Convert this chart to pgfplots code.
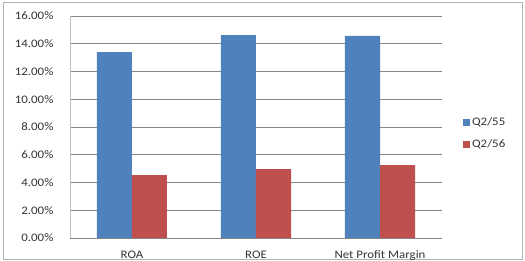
\documentclass[border=0pt]{standalone}
\usepackage{pgfplots}
\pgfplotsset{compat=1.18}
\usepackage{fontspec}
\setmainfont{Carlito}[FakeStretch=1.12]
\definecolor{xblue}{HTML}{4F81BD}
\definecolor{xred}{HTML}{C0504D}
\definecolor{gridc}{HTML}{868686}
\begin{document}
\begin{tikzpicture}[x=1pt,y=1pt]
\useasboundingbox (0,0) rectangle (525,261);
\draw[color=gray!60, line width=0.8pt] (3,2) rectangle (522,259);
\begin{axis}[
  at={(70pt,23pt)}, anchor=south west,
  scale only axis, width=372pt, height=222pt,
  ybar=0pt, bar width=35pt,
  xmin=-0.5, xmax=2.5, ymin=0, ymax=16,
  xtick={0,1,2}, xticklabels={ROA,ROE,Net Profit Margin},
  major x tick style={draw=none},
  extra x ticks={-0.5,0.5,1.5,2.5}, extra x tick labels={},
  extra x tick style={tick style={draw=gridc}, major tick length=4pt, tick align=outside, grid=none},
  ytick={0,2,...,16},
  yticklabel={\pgfmathprintnumber[fixed,fixed zerofill,precision=2]{\tick}\%},
  /pgf/number format/assume math mode=true,
  ymajorgrids, grid style={gridc, line width=0.6pt},
  major y tick style={draw=none},
  axis x line*=bottom, axis y line*=left,
  x axis line style={gridc, -}, y axis line style={gray!50, -},
  tick label style={font=\fontsize{11.5}{13}\selectfont, text=black!80},
  yticklabel style={xshift=-13pt},
  xticklabel style={yshift=-5pt},
  legend style={at={(1.048,0.56)}, anchor=north west, draw=none, fill=none,
    font=\fontsize{11.5}{13}\selectfont, row sep=8pt, text=black!80},
  legend image code/.code={\fill[#1] (0pt,-3.5pt) rectangle (7pt,3.5pt);},
]
\addplot[fill=xblue, draw=none] coordinates {(0,13.4) (1,14.63) (2,14.56)};
\addplot[fill=xred, draw=none] coordinates {(0,4.54) (1,4.97) (2,5.26)};
\legend{Q2/55,Q2/56}
\end{axis}
\end{tikzpicture}
\end{document}
